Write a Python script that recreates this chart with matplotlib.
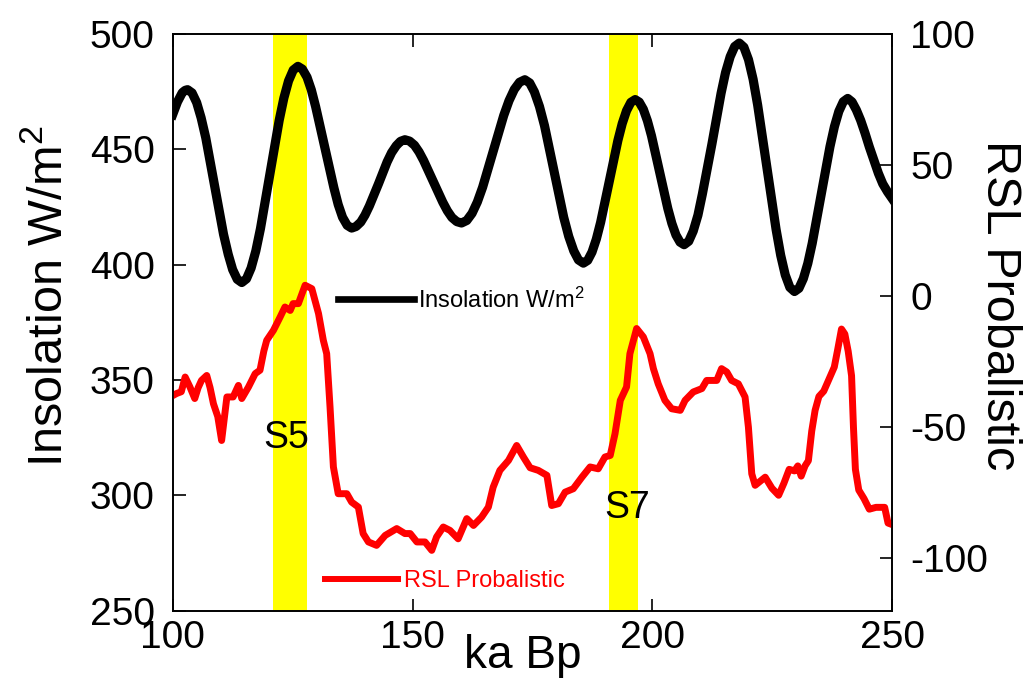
import matplotlib.pyplot as plt

plt.rcParams['font.family'] = ['Liberation Sans', 'DejaVu Sans']
plt.rcParams['mathtext.fontset'] = 'custom'
plt.rcParams['mathtext.rm'] = 'Liberation Sans'
plt.rcParams['mathtext.it'] = 'Liberation Sans'
plt.rcParams['axes.unicode_minus'] = False

# insolation curve (left axis)
age_ins = [100.0, 101.0, 102.0, 102.6, 103.1, 104.04, 105.0, 105.93, 106.9, 108.75,
           110.6, 111.58, 112.5, 113.46, 114.4, 115.38, 116.35, 117.33, 118.3, 120.25,
           122.2, 123.18, 124.15, 125.13, 126.1, 127.03, 128.0, 128.9, 129.8, 131.7,
           133.6, 134.5, 135.4, 136.37, 137.3, 138.23, 139.2, 140.08, 141.0, 142.9,
           144.7, 145.63, 146.6, 147.48, 148.4, 149.38, 150.4, 151.35, 152.3, 154.3,
           156.3, 157.25, 158.2, 159.22, 160.2, 161.3, 162.4, 163.5, 164.6, 166.8,
           169.0, 170.1, 171.2, 172.3, 173.4, 174.42, 175.4, 176.45, 177.5, 179.5,
           181.5, 182.55, 183.6, 184.58, 185.6, 186.5, 187.4, 188.3, 189.2, 191.0,
           192.8, 193.7, 194.6, 195.5, 196.4, 197.25, 198.1, 198.95, 199.8, 201.5,
           203.2, 204.05, 204.9, 205.75, 206.6, 207.56, 208.5, 209.48, 210.4, 212.4,
           214.3, 215.23, 216.2, 217.14, 218.1, 219.06, 220.02, 220.98, 221.93, 223.85,
           225.77, 226.73, 227.68, 228.64, 229.6, 230.53, 231.45, 232.38, 233.3, 235.15,
           237.0, 237.93, 238.85, 239.78, 240.7, 241.6, 242.5, 243.4, 244.3, 245.2,
           246.2, 247.1, 248.0, 249.0, 250.0]
insolation = [465.0, 470.5, 474.5, 475.5, 475.8, 474.4, 470.2, 463.6, 454.9, 434.0,
              413.1, 404.4, 397.8, 393.6, 392.2, 393.8, 398.5, 405.9, 415.6, 439.0,
              462.5, 472.2, 479.6, 484.3, 485.9, 484.7, 481.2, 475.7, 468.4, 450.9,
              433.3, 426.0, 420.5, 417.0, 415.8, 416.5, 418.4, 421.4, 425.4, 435.0,
              444.5, 448.5, 451.5, 453.4, 454.1, 453.5, 451.7, 448.8, 445.1, 436.1,
              427.0, 423.3, 420.4, 418.6, 418.0, 419.1, 422.2, 427.1, 433.5, 449.0,
              464.6, 471.0, 475.9, 479.0, 480.1, 478.7, 474.8, 468.5, 460.2, 440.4,
              420.5, 412.2, 405.9, 402.0, 400.6, 401.8, 405.4, 411.0, 418.3, 436.0,
              453.8, 461.1, 466.7, 470.3, 471.5, 470.4, 467.3, 462.3, 455.8, 440.0,
              424.3, 417.8, 412.8, 409.7, 408.6, 410.1, 414.5, 421.4, 430.5, 452.3,
              474.2, 483.2, 490.1, 494.5, 496.0, 494.2, 488.8, 480.3, 469.1, 442.2,
              415.2, 404.0, 395.5, 390.1, 388.3, 389.7, 393.9, 400.5, 409.2, 430.2,
              451.1, 459.8, 466.4, 470.6, 472.0, 470.5, 467.0, 462.5, 457.0, 451.0,
              445.0, 439.5, 435.0, 431.5, 428.5]

# relative sea level (right axis)
age_rsl = [100.0, 100.8, 101.8, 102.6, 103.6, 104.6, 105.3, 106.0, 107.1, 107.8,
           108.5, 109.4, 110.2, 110.8, 111.3, 112.6, 113.7, 114.4, 115.8, 117.2,
           118.2, 119.0, 119.6, 121.0, 122.4, 123.4, 124.5, 125.1, 126.2, 127.6,
           129.0, 130.4, 131.4, 132.1, 132.8, 133.5, 134.5, 136.3, 137.3, 138.7,
           139.7, 140.8, 142.5, 144.3, 146.7, 148.4, 149.5, 150.9, 152.6, 154.0,
           155.0, 156.4, 157.8, 159.5, 161.3, 162.7, 164.4, 165.8, 166.8, 168.2,
           170.0, 171.7, 173.1, 174.5, 176.2, 178.0, 179.0, 180.4, 181.8, 183.5,
           185.3, 187.0, 188.7, 190.1, 191.2, 192.2, 193.3, 194.6, 195.3, 196.7,
           198.1, 199.5, 200.2, 201.2, 202.6, 204.0, 205.8, 206.8, 208.5, 210.3,
           211.3, 213.4, 214.4, 215.5, 216.5, 217.9, 219.3, 220.0, 220.7, 221.4,
           223.5, 224.9, 226.3, 227.4, 228.5, 229.6, 230.3, 231.0, 231.8, 232.5,
           233.2, 233.9, 234.7, 235.7, 236.8, 237.9, 238.6, 239.4, 240.1, 240.8,
           241.5, 241.9, 242.3, 243.0, 244.1, 245.2, 246.6, 248.4, 249.1, 250.0]
rsl = [-38.0, -37.2, -36.5, -30.9, -34.7, -39.1, -35.0, -32.2, -30.3, -35.0,
       -41.1, -46.0, -55.1, -46.0, -38.5, -38.5, -34.1, -39.1, -34.7, -29.6,
       -28.3, -21.0, -16.9, -13.1, -8.0, -4.2, -5.5, -2.9, -2.9, 4.1,
       2.8, -6.7, -16.9, -22.0, -42.4, -65.2, -75.4, -75.4, -78.6, -80.5,
       -90.6, -93.8, -95.1, -91.3, -88.7, -90.6, -90.6, -93.8, -93.8, -97.0,
       -91.9, -88.1, -89.4, -92.6, -84.9, -87.5, -84.3, -80.5, -72.9, -66.5,
       -62.7, -57.0, -61.4, -65.5, -66.5, -68.4, -79.9, -79.2, -74.8, -73.5,
       -69.1, -65.2, -65.9, -61.4, -60.8, -52.5, -39.8, -34.7, -22.0, -12.4,
       -15.6, -22.0, -27.7, -33.5, -39.8, -43.0, -43.6, -39.8, -36.6, -35.3,
       -32.2, -32.2, -27.7, -29.0, -32.2, -33.5, -38.5, -50.0, -67.8, -72.2,
       -69.1, -73.3, -76.0, -71.4, -66.1, -66.7, -64.8, -68.7, -64.8, -62.8,
       -51.5, -43.6, -38.3, -36.3, -31.7, -27.1, -20.5, -12.6, -14.5, -21.1,
       -30.4, -50.2, -66.1, -74.0, -77.3, -81.3, -80.6, -80.6, -86.6, -87.2]

# marine isotope stage bands
stage_start = [121, 191]
stage_end = [128, 197]
stage_names = ['S5', 'S7']
stage_text_x = [123.7, 194.8]
stage_text_y = [325, 294.5]

fig = plt.figure(figsize=(10.34, 6.9), dpi=100)
ax1 = fig.add_axes([0.167, 0.115, 0.696, 0.836])
ax2 = ax1.twinx()

for s, e in zip(stage_start, stage_end):
    ax1.axvspan(s, e, color='#ffff00', lw=0, zorder=0)
for name, tx, ty in zip(stage_names, stage_text_x, stage_text_y):
    ax1.text(tx, ty, name, fontsize=27, ha='center', va='center')

ax1.plot(age_ins, insolation, color='black', lw=6.6, label='Insolation W/m$^2$')
ax2.plot(age_rsl, rsl, color='red', lw=5.0, label='RSL Probalistic')

ax1.set_xlim(100, 250)
ax1.set_ylim(250, 500)
ax2.set_ylim(-120, 100)
ax1.set_xticks([100, 150, 200, 250])
ax1.set_yticks([250, 300, 350, 400, 450, 500])
ax2.set_yticks([-100, -50, 0, 50, 100])

ax1.tick_params(axis='both', direction='in', length=9, width=1.2, labelsize=28)
ax1.tick_params(axis='x', top=True, pad=7)
ax1.tick_params(axis='y', pad=13)
ax2.tick_params(axis='y', direction='in', length=9, width=1.2, labelsize=28, pad=13)
for ax in (ax1, ax2):
    for sp in ax.spines.values():
        sp.set_linewidth(1.2)

ax1.set_xlabel('ka Bp', fontsize=33)
ax1.xaxis.set_label_coords(0.486, -0.04)
ax1.set_ylabel('Insolation W/m$^2$', fontsize=35)
ax1.yaxis.set_label_coords(-0.140, 0.545)
ax2.set_ylabel('RSL Probalistic', fontsize=35, rotation=270, va='bottom')
ax2.yaxis.set_label_coords(1.117, 0.53)

leg1 = ax1.legend(loc='center left', bbox_to_anchor=(338 / 1034, 1 - 300 / 690),
                  bbox_transform=fig.transFigure, frameon=False, fontsize=17,
                  borderpad=0, borderaxespad=0, handlelength=3.2, handletextpad=0.2)
leg1.get_lines()[0].set_linewidth(4.8)
leg2 = ax2.legend(loc='center left', bbox_to_anchor=(325 / 1034, 1 - 581 / 690),
                  bbox_transform=fig.transFigure, frameon=False, fontsize=17,
                  borderpad=0, borderaxespad=0, handlelength=3.1, handletextpad=0.25,
                  labelcolor='red')
leg2.get_lines()[0].set_linewidth(4.3)

fig.savefig('out.png', dpi=100)
